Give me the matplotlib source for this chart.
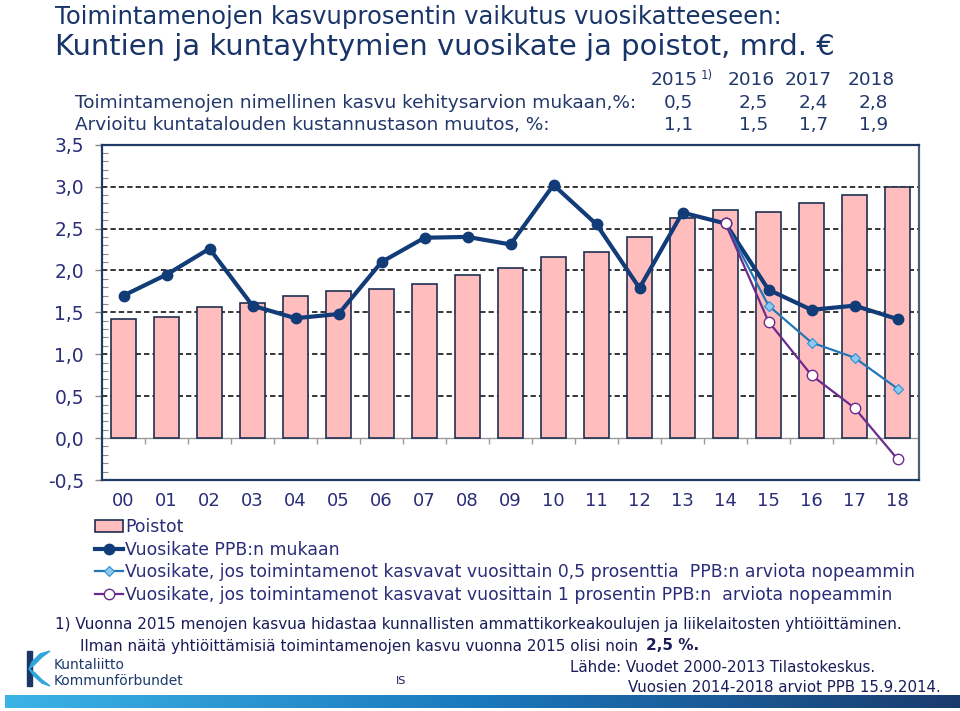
import numpy as np
import matplotlib
matplotlib.use('Agg')
import matplotlib.pyplot as plt
from matplotlib.colors import LinearSegmentedColormap
from matplotlib.patches import Polygon

# data
years = ['00', '01', '02', '03', '04', '05', '06', '07', '08', '09',
         '10', '11', '12', '13', '14', '15', '16', '17', '18']
poistot = [1.42, 1.45, 1.56, 1.61, 1.69, 1.75, 1.78, 1.84, 1.94, 2.03,
           2.16, 2.22, 2.40, 2.62, 2.72, 2.70, 2.80, 2.90, 3.00]
vuosikate = [1.70, 1.95, 2.26, 1.58, 1.43, 1.48, 2.10, 2.39, 2.40, 2.31,
             3.02, 2.55, 1.79, 2.69, 2.56, 1.77, 1.53, 1.58, 1.42]
alt_years = ['14', '15', '16', '17', '18']
vk_05 = [2.56, 1.58, 1.14, 0.96, 0.59]
vk_10 = [2.56, 1.39, 0.75, 0.36, -0.25]

tbl_years = ['2015', '2016', '2017', '2018']
tbl_kasvu = ['0,5', '2,5', '2,4', '2,8']
tbl_kustannus = ['1,1', '1,5', '1,7', '1,9']

TXT = '#2B2D78'
NAVY = '#123C78'
TITLE = '#183468'
FONT = 'DejaVu Sans'

W, H = 960, 711


def fx(x):
    return x / W


def fy(y):
    return 1 - y / H


plt.rcParams['font.family'] = FONT
fig = plt.figure(figsize=(9.6, 7.11), dpi=100)
ax = fig.add_axes([fx(102), fy(480), fx(919) - fx(102), fy(144.7) - fy(480)])

x = np.arange(len(years))
xa = np.array([years.index(y) for y in alt_years])

for yv in np.arange(0.5, 3.01, 0.5):
    ax.axhline(yv, color='black', lw=1.1, ls=(0, (3.5, 2)), zorder=1)
ax.axhline(0, color='#9A9A9A', lw=1.0, zorder=1)
ax.vlines(x[:-1] + 0.5, -0.07, 0, color='#9A9A9A', lw=1.0, zorder=1)

b = ax.bar(x, poistot, width=0.6, color='#FFBDBD', edgecolor='#1F3050', lw=1.2,
           zorder=2, label='Poistot')
l1, = ax.plot(x, vuosikate, color=NAVY, lw=3.0, marker='o', ms=7.5, zorder=4,
              label='Vuosikate PPB:n mukaan')
l2, = ax.plot(xa, vk_05, color='#2377B5', lw=1.6, marker='D', ms=5.5,
              mfc='#8CC8F0', mec='#2F8FD0', mew=0.8, zorder=5,
              label='Vuosikate, jos toimintamenot kasvavat vuosittain 0,5 prosenttia  PPB:n arviota nopeammin')
l3, = ax.plot(xa, vk_10, color='#6A2C8E', lw=1.6, marker='o', ms=7.5,
              mfc='white', mec='#6A2C8E', mew=1.0, zorder=6,
              label='Vuosikate, jos toimintamenot kasvavat vuosittain 1 prosentin PPB:n  arviota nopeammin')

ax.set_xlim(-0.5, len(years) - 0.5)
ax.set_ylim(-0.5, 3.5)
yt = np.arange(-0.5, 3.51, 0.5)
ax.set_yticks(yt)
ax.set_yticklabels([('%.1f' % v).replace('.', ',') for v in yt])
ax.set_yticks(np.arange(-0.5, 3.51, 0.1), minor=True)
ax.set_xticks(x)
ax.set_xticklabels(years)
ax.tick_params(axis='x', length=0, pad=9, labelsize=13, labelcolor=TXT)
ax.tick_params(axis='y', which='major', direction='out', length=5, width=1,
               color='#8A8A8A', pad=8, labelsize=13.4, labelcolor=TXT)
ax.tick_params(axis='y', which='minor', direction='in', length=4, width=0.8,
               color='#8A8A8A')
for name, sp in ax.spines.items():
    sp.set_color('#1F3B66')
    sp.set_linewidth(1.6)
ax.spines['right'].set_color('#4A5E7A')

ax.legend([b, l1, l2, l3], [h.get_label() for h in (b, l1, l2, l3)],
          loc='upper left', bbox_to_anchor=(fx(95), fy(518)),
          bbox_transform=fig.transFigure, frameon=False, fontsize=12.4,
          labelcolor=TXT, handlelength=1.6, handletextpad=0.15,
          labelspacing=0.27, borderaxespad=0, borderpad=0)

# titles
fig.text(fx(55), fy(17), 'Toimintamenojen kasvuprosentin vaikutus vuosikatteeseen:',
         fontsize=17.5, color=TITLE, va='center')
fig.text(fx(55), fy(47), 'Kuntien ja kuntayhtymien vuosikate ja poistot, mrd. €',
         fontsize=20.9, color=TITLE, va='center')

# table above the chart
tfont = dict(fontsize=13.3, color='#22376A', va='center')
fig.text(fx(75), fy(103), 'Toimintamenojen nimellinen kasvu kehitysarvion mukaan,%:', **tfont)
fig.text(fx(75), fy(125), 'Arvioitu kuntatalouden kustannustason muutos, %:', **tfont)
head_r = [698, 775, 832, 895]
val_r = [693, 768, 828, 888]
for i, yr in enumerate(tbl_years):
    fig.text(fx(head_r[i]), fy(80), yr, ha='right', **tfont)
    fig.text(fx(val_r[i]), fy(103), tbl_kasvu[i], ha='right', **tfont)
    fig.text(fx(val_r[i]), fy(125), tbl_kustannus[i], ha='right', **tfont)
fig.text(fx(701), fy(75), '1)', fontsize=8.5, color='#22376A', va='center')

# footnotes
ffont = dict(fontsize=11, color='#1C1C5A', va='center')
fig.text(fx(55), fy(625), '1) Vuonna 2015 menojen kasvua hidastaa kunnallisten '
         'ammattikorkeakoulujen ja liikelaitosten yhtiöittäminen.', **ffont)
t2 = fig.text(fx(80), fy(646), 'Ilman näitä yhtiöittämisiä toimintamenojen kasvu vuonna 2015 olisi noin ',
              **ffont)
fig.canvas.draw()
ext = t2.get_window_extent(renderer=fig.canvas.get_renderer())
fig.text(ext.x1 / fig.bbox.width + 0.003, fy(646), '2,5 %.', fontweight='bold', **ffont)
fig.text(fx(570), fy(667), 'Lähde: Vuodet 2000-2013 Tilastokeskus.', fontsize=10.8,
         color='#1C1C5A', va='center')
fig.text(fx(628), fy(687), 'Vuosien 2014-2018 arviot PPB 15.9.2014.', fontsize=10.8,
         color='#1C1C5A', va='center')
fig.text(fx(396), fy(681), 'IS', fontsize=8, color='#1C1C5A', va='center')

# logo
fig.text(fx(54), fy(665), 'Kuntaliitto', fontsize=10, color='#1B3A6B', va='center')
fig.text(fx(54), fy(681), 'Kommunförbundet', fontsize=10, color='#1B3A6B', va='center')
lax = fig.add_axes([0, 0, 1, 1], zorder=-1)
lax.set_xlim(0, W)
lax.set_ylim(H, 0)
lax.axis('off')
lax.add_patch(Polygon([[27, 651], [32, 651], [32, 686], [27, 686]], color='#1B3566'))
lax.add_patch(Polygon([[50, 651], [40, 654], [32, 662], [29, 669], [34, 665], [42, 657]],
                      color='#2FA6DC'))
lax.add_patch(Polygon([[29, 669], [34, 676], [42, 683], [50, 686], [42, 680], [35, 673]],
                      color='#2FA6DC'))

# bottom stripe
cmap = LinearSegmentedColormap.from_list('stripe', ['#3BB3E6', '#1A78BC', '#1B3B6E'])
sax = fig.add_axes([fx(5), fy(708), fx(955), 13 / H])
sax.imshow(np.linspace(0, 1, 256)[None, :], aspect='auto', cmap=cmap)
sax.axis('off')

plt.savefig('out.png', dpi=100)
